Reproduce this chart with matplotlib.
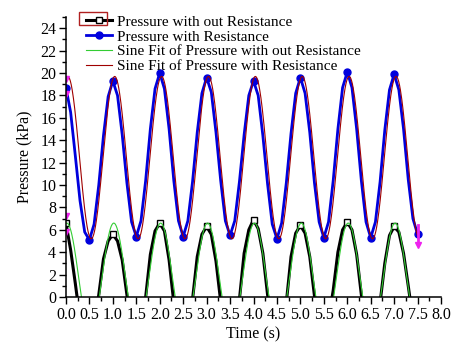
import numpy as np
import matplotlib
matplotlib.use('Agg')
import matplotlib.pyplot as plt
from matplotlib.patches import Rectangle
from matplotlib.ticker import MultipleLocator, FormatStrFormatter

plt.rcParams['font.family'] = ['Liberation Serif', 'DejaVu Serif']

# sampled every 0.1 s
time = np.linspace(0, 7.5, 76)

# pressure without resistance (kPa)
p_no_res = [6.6, 4.2, 1.2, -2.0, -3.5, -4.0, -2.5, 0.2, 3.4, 5.0,
            5.6, 5.0, 3.3, 0.2, -2.5, -4.0, -2.5, 0.0, 3.8, 5.9,
            6.6, 5.9, 3.3, -0.5, -2.8, -4.0, -2.8, -0.2, 3.6, 5.6,
            6.3, 5.6, 3.2, -0.4, -2.8, -4.0, -2.5, -0.2, 3.9, 6.0,
            6.9, 6.1, 3.9, 0.2, -2.5, -4.0, -2.5, -0.5, 3.6, 5.7,
            6.4, 5.7, 3.6, 0.1, -2.5, -4.0, -2.0, 0.6, 4.0, 6.0,
            6.7, 6.0, 3.8, 0.2, -2.5, -4.0, -2.8, -0.5, 3.0, 5.5,
            6.3, 5.8, 3.9, 1.0, -2.0, -3.5]

# pressure with resistance (kPa)
p_res = [18.7, 16.5, 12.6, 8.6, 5.8, 5.1, 6.5, 10.0, 14.4, 17.9,
         19.3, 18.0, 14.5, 10.2, 6.7, 5.4, 6.8, 10.4, 15.0, 18.6,
         20.0, 18.6, 15.0, 10.4, 6.8, 5.4, 6.8, 10.3, 14.7, 18.2,
         19.6, 18.3, 14.7, 10.4, 6.8, 5.5, 6.8, 10.3, 14.5, 18.0,
         19.3, 18.0, 14.4, 10.1, 6.5, 5.2, 6.6, 10.2, 14.6, 18.2,
         19.6, 18.2, 14.7, 10.2, 6.7, 5.3, 6.7, 10.4, 15.0, 18.7,
         20.1, 18.7, 15.0, 10.4, 6.7, 5.3, 6.7, 10.3, 14.9, 18.5,
         19.9, 18.5, 15.0, 10.5, 7.0, 5.6]

# sine fit results, y = y0 + A*sin(pi*(t - xc)/w)
fit_no_res = dict(y0=1.78, A=4.82, xc=-0.23, w=0.5)
fit_res = dict(y0=12.45, A=7.25, xc=-0.21, w=0.5)

# data range markers
range_t = [0.0, 0.0, 0.0, 0.0]
range_v = [19.5, 18.1, 7.2, 5.8]
end_t = [7.5, 7.5]
end_v = [6.4, 4.6]


def sine(t, y0, A, xc, w):
    return y0 + A * np.sin(np.pi * (t - xc) / w)


fig = plt.figure(figsize=(4.58, 3.49), dpi=100)
ax = fig.add_axes([0.144, 0.149, 0.819, 0.802])

tf = np.linspace(0, 7.5, 800)
ax.plot(time, p_no_res, color='black', lw=2.2, marker='s', markersize=4,
        markevery=10, markerfacecolor='white', markeredgecolor='black',
        markeredgewidth=1.0, label='Pressure with out Resistance')
ax.plot(time, p_res, color='#0000DD', lw=2.0, marker='o', markersize=5,
        markevery=5, label='Pressure with Resistance')
ax.plot(tf, sine(tf, **fit_no_res), color='#33CC33', lw=0.8,
        label='Sine Fit of Pressure with out Resistance')
ax.plot(tf, sine(tf, **fit_res), color='#A00000', lw=0.8,
        label='Sine Fit of Pressure with Resistance')

ax.plot(range_t, range_v, ls='none', marker='v', markersize=4,
        color='#EE22EE')
ax.plot(end_t, end_v, color='#EE22EE', lw=2.0)
ax.plot(end_t[1:], end_v[1:], ls='none', marker='v', markersize=4,
        color='#EE22EE')

ax.set_xlim(0, 8)
ax.set_ylim(0, 25)
ax.xaxis.set_major_locator(MultipleLocator(0.5))
ax.xaxis.set_minor_locator(MultipleLocator(0.25))
ax.xaxis.set_major_formatter(FormatStrFormatter('%.1f'))
ax.yaxis.set_major_locator(MultipleLocator(2))
ax.yaxis.set_minor_locator(MultipleLocator(1))

for side in ('top', 'right'):
    ax.spines[side].set_visible(False)
for side in ('left', 'bottom'):
    ax.spines[side].set_linewidth(1.1)

ax.tick_params(which='major', direction='out', length=5, width=1.0,
               labelsize=11.5, pad=2)
ax.tick_params(which='minor', direction='out', length=3, width=1.0)

ax.set_xlabel('Time (s)', fontsize=11.5, labelpad=3)
ax.set_ylabel('Pressure (kPa)', fontsize=11.5, labelpad=6)

leg = ax.legend(loc='upper left', bbox_to_anchor=(0.163, 0.99),
                bbox_transform=fig.transFigure, frameon=False,
                fontsize=11, handlelength=1.7, handletextpad=0.35,
                labelspacing=0.08, borderpad=0.25)

# box around the first legend key
fig.patches.append(Rectangle((79 / 458, 1 - 25 / 349), 28 / 458, 13 / 349,
                             transform=fig.transFigure, fill=False,
                             edgecolor='#B02020', lw=1.0))

fig.savefig('out.png', dpi=100)
